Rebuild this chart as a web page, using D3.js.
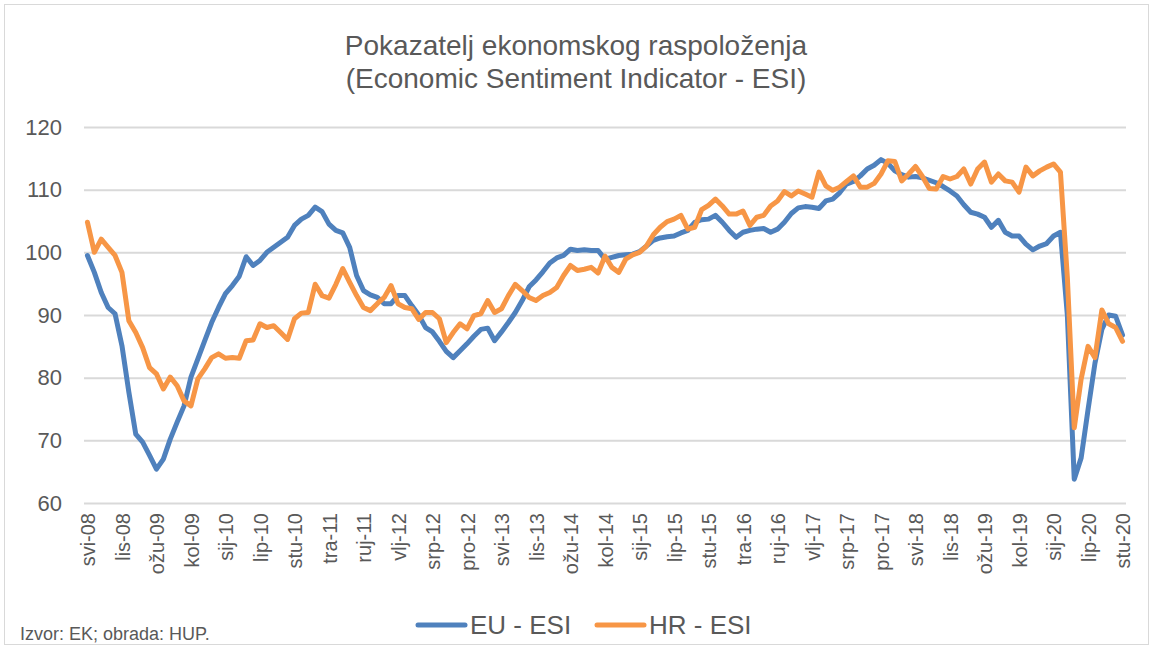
<!DOCTYPE html>
<html>
<head>
<meta charset="utf-8">
<script src="https://cdn.jsdelivr.net/npm/d3@7"></script>
<style>
  body { margin: 0; background: #fff; }
  text { font-family: "Liberation Sans", Arial, sans-serif; fill: #595959; }
</style>
</head>
<body>
<svg width="1153" height="649"></svg>
<script>
const monthNames = ["sij", "vlj", "ožu", "tra", "svi", "lip", "srp", "kol", "ruj", "lis", "stu", "pro"];

// svi-08 .. stu-20, monthly
const categories = [];
for (let k = 0; k < 151; k++) {
  const m = (4 + k) % 12;
  const y = 8 + Math.floor((4 + k) / 12);
  categories.push(monthNames[m] + "-" + String(y).padStart(2, "0"));
}

const euEsi = [
  99.5, 96.8, 93.6, 91.2, 90.2, 85.1, 77.7, 71.0, 69.7, 67.6,
  65.4, 67.0, 70.2, 72.9, 75.5, 80.1, 83.0, 85.9, 88.8, 91.2,
  93.4, 94.7, 96.2, 99.3, 97.9, 98.7, 100.0, 100.8, 101.6, 102.4,
  104.3, 105.3, 105.9, 107.2, 106.5, 104.5, 103.5, 103.1, 100.8, 96.3,
  93.9, 93.2, 92.8, 91.8, 91.8, 93.1, 93.1, 91.5, 90.0, 88.0,
  87.3, 85.8, 84.2, 83.2, 84.3, 85.4, 86.6, 87.7, 87.9, 85.9,
  87.3, 88.8, 90.4, 92.3, 94.5, 95.6, 96.9, 98.3, 99.1, 99.5,
  100.5, 100.3, 100.4, 100.3, 100.3, 98.9, 99.2, 99.5, 99.6, 99.7,
  100.1, 101.0, 101.9, 102.3, 102.5, 102.6, 103.1, 103.5, 104.8, 105.2,
  105.3, 105.9, 104.8, 103.5, 102.4, 103.2, 103.5, 103.7, 103.8, 103.2,
  103.7, 104.8, 106.2, 107.1, 107.3, 107.2, 107.0, 108.2, 108.5, 109.5,
  110.9, 111.3, 112.2, 113.3, 113.9, 114.8, 114.2, 113.0, 112.4, 112.0,
  112.1, 111.9, 111.5, 111.1, 110.5, 109.8, 109.0, 107.6, 106.4, 106.1,
  105.6, 104.0, 105.1, 103.2, 102.6, 102.6, 101.3, 100.4, 101.0, 101.4,
  102.6, 103.2, 90.0, 63.8, 67.2, 74.9, 82.3, 87.7, 90.0, 89.8,
  86.8
];

const hrEsi = [
  104.8, 100.0, 102.1, 100.8, 99.5, 96.8, 89.1, 87.2, 84.8, 81.6,
  80.6, 78.2, 80.1, 78.7, 76.3, 75.5, 79.8, 81.4, 83.2, 83.8,
  83.1, 83.2, 83.1, 85.9, 86.0, 88.6, 88.0, 88.3, 87.2, 86.1,
  89.4, 90.3, 90.4, 94.9, 93.1, 92.7, 94.9, 97.4, 95.2, 93.1,
  91.2, 90.7, 91.8, 92.8, 94.7, 91.8, 91.2, 91.0, 89.3, 90.4,
  90.4, 89.4, 85.6, 87.2, 88.6, 87.8, 89.9, 90.2, 92.3, 90.4,
  91.0, 93.1, 94.9, 93.9, 92.8, 92.3, 93.1, 93.6, 94.4, 96.3,
  97.9, 97.1, 97.3, 97.6, 96.7, 99.4, 97.6, 96.8, 98.9, 99.6,
  100.0, 101.0, 102.8, 104.0, 104.9, 105.3, 105.9, 103.7, 104.0, 106.8,
  107.5, 108.5, 107.4, 106.1, 106.1, 106.6, 104.3, 105.6, 105.9, 107.4,
  108.2, 109.7, 109.0, 109.8, 109.3, 108.8, 112.8, 110.6, 109.9, 110.4,
  111.3, 112.2, 110.4, 110.4, 111.0, 112.5, 114.6, 114.5, 111.4, 112.5,
  113.7, 112.1, 110.2, 110.1, 112.1, 111.7, 112.1, 113.3, 110.9, 113.3,
  114.4, 111.2, 112.5, 111.4, 111.2, 109.6, 113.6, 112.2, 113.0, 113.6,
  114.1, 112.8, 96.0, 72.0, 79.8, 85.0, 83.2, 90.8, 88.6, 88.0,
  85.8
];

const yTicks = [60, 70, 80, 90, 100, 110, 120];
const seriesNames = ["EU - ESI", "HR - ESI"];
const colors = ["#4f81bd", "#f79646"];

const svg = d3.select("svg");
const width = +svg.attr("width");
const height = +svg.attr("height");

const margin = { top: 127, right: 27, bottom: 146, left: 84 };
const graphWidth = width - margin.left - margin.right;
const graphHeight = height - margin.top - margin.bottom;

// outer chart border
svg.append("rect")
  .attr("x", 4.5).attr("y", 4.5)
  .attr("width", width - 9).attr("height", height - 9)
  .attr("fill", "none")
  .attr("stroke", "#d9d9d9");

// title
const title = svg.append("text")
  .attr("x", 576)
  .attr("text-anchor", "middle")
  .style("font-size", "28px");
title.append("tspan").attr("x", 576).attr("y", 55).text("Pokazatelj ekonomskog raspoloženja");
title.append("tspan").attr("x", 576).attr("y", 88).text("(Economic Sentiment Indicator - ESI)");

const graph = svg.append("g")
  .attr("transform", `translate(${margin.left}, ${margin.top})`);

const xScale = d3.scalePoint()
  .domain(d3.range(categories.length))
  .range([0, graphWidth])
  .padding(0.5);

const yScale = d3.scaleLinear()
  .domain([60, 120])
  .range([graphHeight, 0]);

const yAxis = d3.axisLeft(yScale)
  .tickValues(yTicks)
  .tickSize(-graphWidth)
  .tickPadding(22);

const yAxisG = graph.append("g").call(yAxis);
yAxisG.select(".domain").remove();
yAxisG.selectAll(".tick line")
  .attr("stroke", "#d9d9d9")
  .attr("stroke-width", 2);
yAxisG.selectAll(".tick text")
  .style("font-size", "22px")
  .style("font-family", "Liberation Sans, Arial, sans-serif")
  .attr("fill", "#595959");

const xAxis = d3.axisBottom(xScale)
  .tickValues(d3.range(0, categories.length, 5))
  .tickFormat(i => categories[i])
  .tickSize(0);

const xAxisG = graph.append("g")
  .attr("transform", `translate(0, ${graphHeight})`)
  .call(xAxis);
xAxisG.select(".domain").remove();
xAxisG.selectAll(".tick text")
  .attr("transform", "rotate(-90)")
  .attr("text-anchor", "end")
  .attr("x", -10)
  .attr("y", 0)
  .attr("dy", "0.36em")
  .style("font-size", "20px")
  .style("font-family", "Liberation Sans, Arial, sans-serif")
  .attr("fill", "#595959");

const line = values => d3.line()
  .x((d, i) => xScale(i))
  .y(d => yScale(d))(values);

[euEsi, hrEsi].forEach((values, k) => {
  graph.append("path")
    .attr("d", line(values))
    .attr("fill", "none")
    .attr("stroke", colors[k])
    .attr("stroke-width", 5)
    .attr("stroke-linejoin", "round")
    .attr("stroke-linecap", "round");
});

// legend
const legend = svg.append("g").attr("transform", "translate(418, 625)");
const legendX = [0, 179];
seriesNames.forEach((name, k) => {
  const item = legend.append("g").attr("transform", `translate(${legendX[k]}, 0)`);
  item.append("line")
    .attr("x1", 0).attr("x2", 47)
    .attr("stroke", colors[k])
    .attr("stroke-width", 5)
    .attr("stroke-linecap", "round");
  item.append("text")
    .attr("x", 52)
    .attr("dy", "0.36em")
    .style("font-size", "26px")
    .text(name);
});

// source note
svg.append("text")
  .attr("x", 20)
  .attr("y", 640)
  .style("font-size", "18px")
  .text("Izvor: EK; obrada: HUP.");
</script>
</body>
</html>
